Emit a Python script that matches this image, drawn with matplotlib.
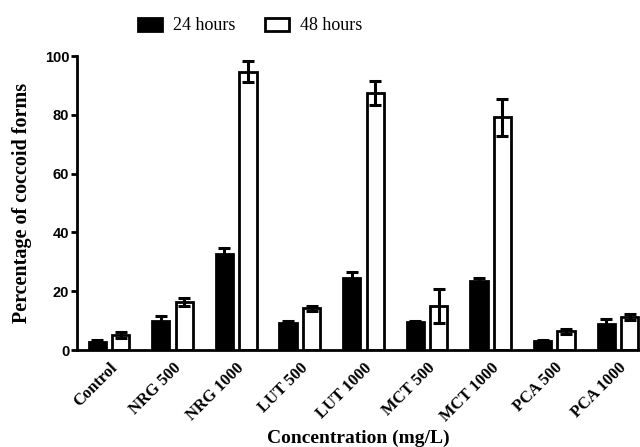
import matplotlib
matplotlib.use("Agg")
import matplotlib.pyplot as plt
import numpy as np
from matplotlib.patches import Patch

categories = ["Control", "NRG 500", "NRG 1000", "LUT 500", "LUT 1000",
              "MCT 500", "MCT 1000", "PCA 500", "PCA 1000"]
h24 = [2.8, 9.8, 32.8, 9.2, 24.5, 9.5, 23.4, 3.0, 9.0]
h24_err = [0.6, 1.6, 2.0, 0.5, 2.0, 0.5, 1.2, 0.5, 1.5]
h48 = [5.2, 16.3, 94.7, 14.2, 87.5, 15.0, 79.2, 6.3, 11.2]
h48_err = [1.0, 1.5, 3.6, 0.9, 4.0, 5.8, 6.3, 1.0, 0.9]
yticks = [0, 20, 40, 60, 80, 100]

fig = plt.figure(figsize=(6.4, 4.47), dpi=100)
ax = fig.add_axes([77/640, 1-350/447, 1-77/640, (350-56)/447])

x = np.arange(len(categories))
w = 0.27
off = 0.185
lw = 2.0
ekw = dict(elinewidth=2.2, capthick=2.2)
ax.bar(x - off, h24, w, color="black", edgecolor="black", linewidth=lw,
       yerr=h24_err, capsize=4, error_kw=ekw, ecolor="black")
ax.bar(x + off, h48, w, color="white", edgecolor="black", linewidth=lw,
       yerr=h48_err, capsize=4, error_kw=ekw, ecolor="black")

ax.set_xlim(-0.503, 8.347)
ax.set_ylim(0, 100)
ax.set_yticks(yticks)
ax.set_yticklabels([str(t) for t in yticks], fontfamily="Liberation Sans",
                   fontweight="bold", fontsize=10.5)
ax.set_xticks(x)
ax.set_xticklabels(categories, rotation=45, ha="right", rotation_mode="anchor",
                   fontfamily="Liberation Serif", fontweight="bold", fontsize=12)
ax.tick_params(axis="x", length=0, pad=7)
ax.tick_params(axis="y", length=4.5, width=2, pad=1)
for s in ["top", "right"]:
    ax.spines[s].set_visible(False)
for s in ["left", "bottom"]:
    ax.spines[s].set_linewidth(2)

ax.set_ylabel("Percentage of coccoid forms", fontfamily="Liberation Serif",
              fontweight="bold", fontsize=14.5, labelpad=9)
ax.set_xlabel("Concentration (mg/L)", fontfamily="Liberation Serif",
              fontweight="bold", fontsize=14, labelpad=4)

handles = [Patch(facecolor="black", edgecolor="black", linewidth=2, label="24 hours"),
           Patch(facecolor="white", edgecolor="black", linewidth=2, label="48 hours")]
fig.legend(handles=handles, loc="center", bbox_to_anchor=(250/640, 1-26/447),
           ncol=2, frameon=False, prop={"family": "Liberation Serif", "size": 13},
           handlelength=1.35, handleheight=0.75, columnspacing=1.6, handletextpad=0.6)

fig.savefig("out.png", dpi=100)
